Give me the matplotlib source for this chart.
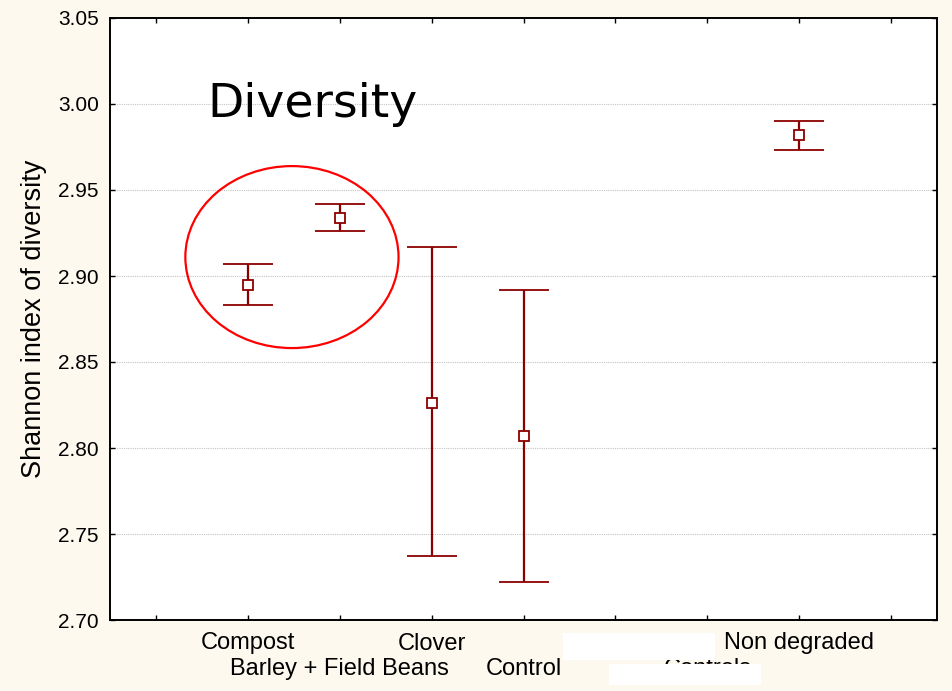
import matplotlib
matplotlib.use("Agg")
from matplotlib import pyplot as plt
from matplotlib.patches import Ellipse, Rectangle

plt.rcParams['font.family'] = ['Liberation Sans', 'DejaVu Sans']

# treatment groups along the x axis (empty slots at both ends)
groups = ["", "Compost", "Barley + Field Beans", "Clover", "Control",
          "NP", "Controls", "Non degraded", ""]
# Shannon index: mean with upper / lower bounds
pos = [1, 2, 3, 4, 7]
mean = [2.895, 2.934, 2.826, 2.807, 2.982]
upper = [2.907, 2.942, 2.917, 2.892, 2.990]
lower = [2.883, 2.926, 2.737, 2.722, 2.973]
yticks = [2.70, 2.75, 2.80, 2.85, 2.90, 2.95, 3.00, 3.05]

bg = '#fef9ee'
dark_red = '#8b0000'

fig = plt.figure(figsize=(9.52, 6.91), dpi=100, facecolor=bg)
ax = fig.add_axes([110/952, 71/691, 827/952, 602/691])
ax.set_facecolor('white')

err = [[m - lo for m, lo in zip(mean, lower)], [up - m for m, up in zip(mean, upper)]]
ax.errorbar(pos, mean, yerr=err, fmt='s', color=dark_red, ecolor=dark_red,
            elinewidth=1.6, capsize=18, capthick=1.6, markersize=7.5,
            markerfacecolor='white', markeredgecolor=dark_red, markeredgewidth=1.3,
            zorder=3)

ax.set_xlim(-0.5, 8.5)
ax.set_ylim(2.70, 3.05)
ax.set_yticks(yticks)
ax.set_yticklabels([f"{v:.2f}" for v in yticks], fontsize=15)

# stagger the group names: odd slots on the first row, even slots on the second
odd = list(range(1, len(groups), 2))
even = list(range(0, len(groups), 2))
ax.set_xticks(odd)
ax.set_xticklabels([groups[i] for i in odd], fontsize=17)
ax.set_xticks(even, minor=True)
ax.set_xticklabels([groups[i] for i in even], minor=True, fontsize=17)

ax.tick_params(which='both', direction='in', length=3.5, width=1, top=True, right=True, pad=8)
ax.tick_params(axis='x', which='major', pad=9)
ax.tick_params(axis='x', which='minor', pad=27.5)
ax.grid(axis='y', linestyle=(0, (1, 1)), color='#c4c4c4', linewidth=0.8)
ax.set_axisbelow(True)
for sp in ax.spines.values():
    sp.set_linewidth(1.4)

ax.set_ylabel("Shannon index of diversity", fontsize=19.5, labelpad=8)
ax.text(0.56, 2.9924, "Diversity", fontsize=34, family='DejaVu Sans', va='baseline')

ax.add_patch(Ellipse((1.48, 2.911), 2.32, 0.1058, fill=False, edgecolor='red',
                     linewidth=1.6, zorder=4))

# blank boxes over two of the group names
fig.patches.append(Rectangle((563/952, 1 - 660/691), 152/952, 27/691,
                             transform=fig.transFigure, facecolor='white',
                             edgecolor='none', zorder=10))
fig.patches.append(Rectangle((609/952, 1 - 685/691), 152/952, 21/691,
                             transform=fig.transFigure, facecolor='white',
                             edgecolor='none', zorder=10))

fig.savefig("out.png", dpi=100, facecolor=bg)
